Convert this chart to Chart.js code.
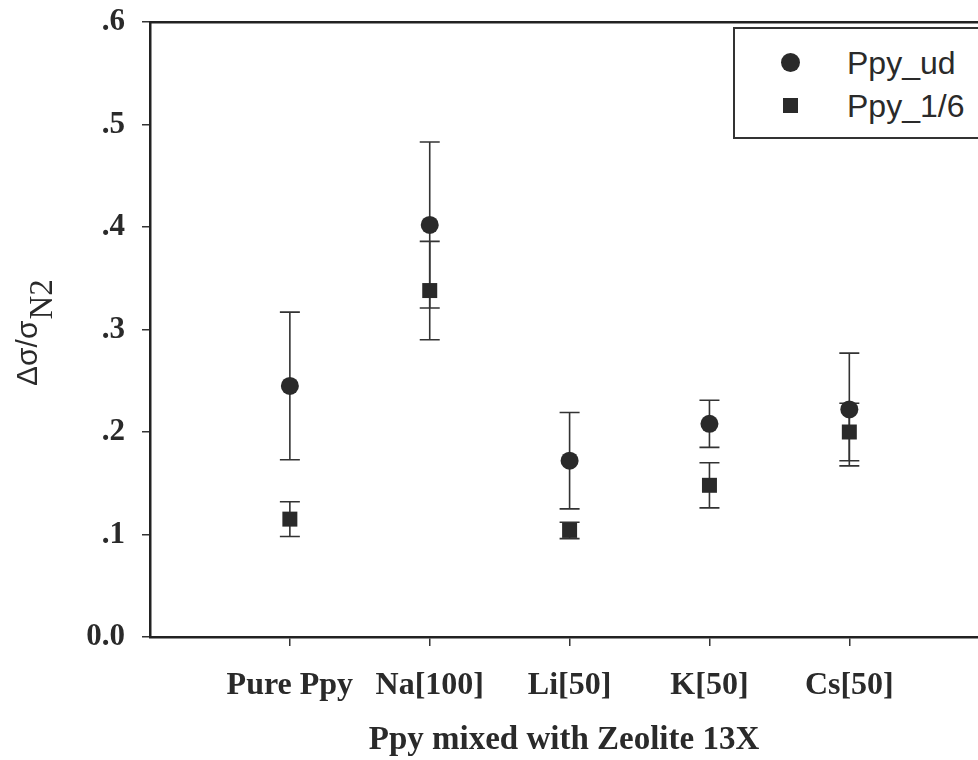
<!DOCTYPE html>
<html>
<head>
<meta charset="utf-8">
<script src="https://cdn.jsdelivr.net/npm/chart.js@4.4.1/dist/chart.umd.min.js"></script>
<style>
  html, body { margin: 0; padding: 0; background: #fff; overflow: hidden; }
  #wrap { position: relative; width: 978px; height: 760px; }
  #legendBox {
    position: absolute; left: 733px; top: 27px; width: 270px; height: 112px;
    border: 2px solid #333; background: #fff; box-sizing: border-box;
    font-family: "Liberation Sans", Arial, sans-serif; font-size: 32px; color: #2a2a2a;
  }
  .row { position: absolute; left: 0; height: 36px; line-height: 36px; }
  .row span.txt { position: absolute; left: 112px; white-space: nowrap; }
  .sym { position: absolute; background: #2a2a2a; }
  .sym.circle { width: 19px; height: 19px; border-radius: 50%; left: 46px; top: 8px; }
  .sym.square { width: 15px; height: 15px; left: 48px; top: 10px; }
</style>
</head>
<body>
<div id="wrap">
  <canvas id="chart" width="978" height="760"></canvas>
  <div id="legendBox">
    <div class="row" style="top:16px"><span class="sym circle"></span><span class="txt">Ppy_ud</span></div>
    <div class="row" style="top:59px"><span class="sym square"></span><span class="txt">Ppy_1/6</span></div>
  </div>
</div>
<script>
// categories on the x axis
const categories = ["Pure Ppy", "Na[100]", "Li[50]", "K[50]", "Cs[50]"];

// Ppy_ud series (circles) and its error bars
const udValues = [0.245, 0.402, 0.172, 0.208, 0.222];
const udErrors = [0.072, 0.081, 0.047, 0.023, 0.055];

// Ppy_1/6 series (squares) and its error bars
const sixthValues = [0.115, 0.338, 0.104, 0.148, 0.200];
const sixthErrors = [0.017, 0.048, 0.008, 0.022, 0.028];

const yTicks = [0, 0.1, 0.2, 0.3, 0.4, 0.5, 0.6];

const ink = "#2a2a2a";
const serif = "'Liberation Serif', 'Times New Roman', serif";

const toPoints = (vals) => vals.map((v, i) => ({ x: i + 1, y: v }));

// vertical error bars with caps, drawn through the chart scales
const errorBars = {
    id: "errorBars",
    beforeDatasetsDraw(chart) {
        const { ctx, scales } = chart;
        const errs = [udErrors, sixthErrors];
        ctx.save();
        ctx.strokeStyle = "#333";
        ctx.lineWidth = 1.6;
        chart.data.datasets.forEach((ds, d) => {
            ds.data.forEach((p, i) => {
                const px = scales.x.getPixelForValue(p.x);
                const top = scales.y.getPixelForValue(p.y + errs[d][i]);
                const bot = scales.y.getPixelForValue(p.y - errs[d][i]);
                ctx.beginPath();
                ctx.moveTo(px, top); ctx.lineTo(px, bot);
                ctx.moveTo(px - 10, top); ctx.lineTo(px + 10, top);
                ctx.moveTo(px - 10, bot); ctx.lineTo(px + 10, bot);
                ctx.stroke();
            });
        });
        ctx.restore();
    },
};

// y axis title: Δσ/σ with subscript N2, rotated
const yTitle = {
    id: "yTitle",
    afterDraw(chart) {
        const { ctx } = chart;
        ctx.save();
        ctx.translate(37, 386);
        ctx.rotate(-Math.PI / 2);
        ctx.fillStyle = ink;
        ctx.textBaseline = "alphabetic";
        ctx.font = "30px 'Liberation Sans', Arial, sans-serif";
        ctx.fillText("Δσ/σ", 0, 0);
        const w = ctx.measureText("Δσ/σ").width;
        ctx.font = "33px " + serif;
        ctx.fillText("N2", w + 1, 15);
        ctx.restore();
    },
};

new Chart(document.getElementById("chart").getContext("2d"), {
    type: "scatter",
    data: {
        datasets: [
            {
                label: "Ppy_ud",
                data: toPoints(udValues),
                pointStyle: "circle",
                pointRadius: 9,
                backgroundColor: ink,
                borderColor: ink,
                borderWidth: 0,
            },
            {
                label: "Ppy_1/6",
                data: toPoints(sixthValues),
                pointStyle: "rect",
                pointRadius: 10.6,
                backgroundColor: ink,
                borderColor: ink,
                borderWidth: 0,
            },
        ],
    },
    options: {
        responsive: false,
        animation: false,
        layout: { autoPadding: false, padding: { top: 22, left: 0, right: 0, bottom: 0 } },
        plugins: { legend: { display: false }, tooltip: { enabled: false } },
        scales: {
            x: {
                type: "linear",
                min: 0,
                max: 5.92,
                afterBuildTicks: (scale) => {
                    scale.ticks = categories.map((_, i) => ({ value: i + 1 }));
                },
                afterFit: (scale) => {
                    scale.height = 123;
                    scale.paddingLeft = 0;
                    scale.paddingRight = 0;
                },
                ticks: {
                    callback: (v) => categories[v - 1],
                    font: { family: serif, size: 32, weight: "bold" },
                    color: ink,
                    padding: 21,
                    maxRotation: 0,
                    autoSkip: false,
                },
                grid: { drawOnChartArea: false, drawTicks: true, tickLength: 9, color: "#333", lineWidth: 1.5 },
                border: { display: true, color: "#222", width: 2.5 },
                title: {
                    display: true,
                    text: "Ppy mixed with Zeolite 13X",
                    font: { family: serif, size: 33, weight: "bold" },
                    color: ink,
                    padding: { top: 0, bottom: 0 },
                },
            },
            xTop: {
                type: "linear",
                position: "top",
                min: 0,
                max: 5.92,
                afterFit: (scale) => {
                    scale.height = 0;
                    scale.paddingLeft = 0;
                    scale.paddingRight = 0;
                },
                ticks: { display: false },
                grid: { display: false, drawTicks: false },
                border: { display: true, color: "#222", width: 2.5 },
            },
            y: {
                min: 0,
                max: 0.6,
                afterBuildTicks: (scale) => {
                    scale.ticks = yTicks.map((v) => ({ value: v }));
                },
                afterFit: (scale) => {
                    scale.width = 150;
                    scale.paddingTop = 0;
                    scale.paddingBottom = 0;
                },
                ticks: {
                    callback: (v) => (v === 0 ? "0.0" : "." + Math.round(v * 10)),
                    font: { family: serif, size: 31, weight: "bold" },
                    color: ink,
                    padding: 17,
                },
                grid: { drawOnChartArea: false, drawTicks: true, tickLength: 8, color: "#333", lineWidth: 1.5 },
                border: { display: true, color: "#222", width: 2.5 },
            },
        },
    },
    plugins: [errorBars, yTitle],
});
</script>
</body>
</html>
